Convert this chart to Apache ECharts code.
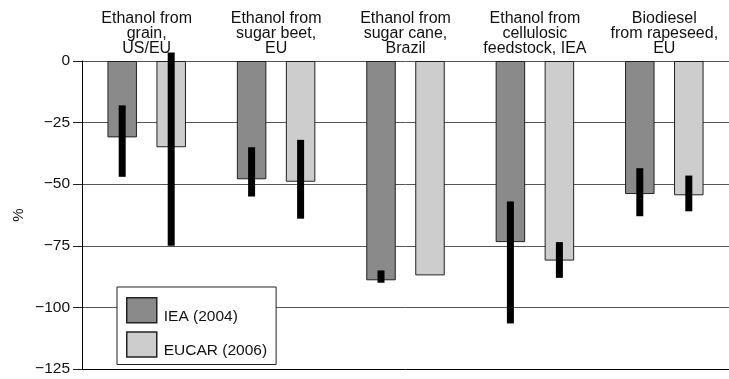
<!DOCTYPE html>
<html>
<head>
<meta charset="utf-8">
<script src="https://cdn.jsdelivr.net/npm/echarts@6/dist/echarts.min.js"></script>
<style>html,body{margin:0;padding:0;background:#fff;}#c{width:729px;height:379px;}</style>
</head>
<body>
<div id="c"></div>
<script>
const categories = [
  'Ethanol from\ngrain,\nUS/EU',
  'Ethanol from\nsugar beet,\nEU',
  'Ethanol from\nsugar cane,\nBrazil',
  'Ethanol from\ncellulosic\nfeedstock, IEA',
  'Biodiesel\nfrom rapeseed,\nEU'
];
const seriesNames = ['IEA (2004)', 'EUCAR (2006)'];
const ieaValues = [-31, -48, -89, -73.5, -54];
const eucarValues = [-35, -49, -87, -81, -54.5];
// error ranges [high, low]; null = none
const ieaRanges = [[-18, -47], [-35, -55], [-85, -90], [-57, -106.5], [-43.5, -63]];
const eucarRanges = [[3.5, -75], [-32, -64], null, [-73.5, -88], [-46.5, -61]];
const yTicks = [-125, -100, -75, -50, -25, 0];

const FONT = '"Liberation Sans", Arial, sans-serif';
const BAR_W = 29.5, GAP_PX = 19.5, ERR_W = 7;
const OFFSET = (BAR_W + GAP_PX) / 2;

const errData = [];
ieaRanges.forEach((r, i) => { if (r) errData.push([i, r[0], r[1], -1]); });
eucarRanges.forEach((r, i) => { if (r) errData.push([i, r[0], r[1], 1]); });

const chart = echarts.init(document.getElementById('c'));
chart.setOption({
  animation: false,
  textStyle: { fontFamily: FONT, color: '#111' },
  grid: { left: 82, right: -9, top: 61, bottom: 10 },
  xAxis: {
    type: 'category',
    position: 'top',
    data: categories,
    axisLine: { show: false },
    axisTick: { show: false },
    axisLabel: { interval: 0, fontFamily: FONT, fontSize: 16, lineHeight: 15, color: '#111', margin: 5 }
  },
  yAxis: {
    type: 'value',
    min: yTicks[0],
    max: yTicks[yTicks.length - 1],
    interval: 25,
    name: '%',
    nameLocation: 'middle',
    nameGap: 56,
    nameMoveOverlap: false,
    nameTextStyle: { fontFamily: FONT, fontSize: 15, color: '#111' },
    axisLine: { show: true, lineStyle: { color: '#000', width: 1 } },
    axisTick: { show: true, length: 9, lineStyle: { color: '#222' } },
    axisLabel: {
      fontFamily: FONT, fontSize: 15.5, color: '#111', margin: 12,
      formatter: v => String(v).replace('-', '\u2212')
    },
    splitLine: { show: true, lineStyle: { color: ['#000', '#555', '#555', '#555', '#555', '#555'], width: 1 } }
  },
  legend: {
    orient: 'vertical',
    left: 117, top: 287,
    backgroundColor: '#fff',
    borderColor: '#222', borderWidth: 1,
    padding: [10, 9, 6, 9],
    itemWidth: 30, itemHeight: 25, itemGap: 7,
    icon: 'rect',
    itemStyle: { borderColor: '#222', borderWidth: 1.5 },
    formatter: n => '{t|' + n + '}',
    textStyle: {
      fontFamily: FONT, fontSize: 15.5, color: '#111',
      rich: { t: { fontFamily: FONT, fontSize: 15.5, color: '#111', padding: [12, 0, 0, 2] } }
    },
    data: seriesNames
  },
  series: [
    {
      name: seriesNames[0], type: 'bar', data: ieaValues,
      barWidth: BAR_W, barGap: (GAP_PX / BAR_W * 100) + '%',
      itemStyle: { color: '#8a8a8a', borderColor: '#222', borderWidth: 1 }
    },
    {
      name: seriesNames[1], type: 'bar', data: eucarValues,
      barWidth: BAR_W,
      itemStyle: { color: '#cdcdcd', borderColor: '#222', borderWidth: 1 }
    },
    {
      type: 'custom', data: errData, z: 5, clip: false,
      renderItem: (params, api) => {
        const i = api.value(0);
        const top = api.coord([i, api.value(1)]);
        const bot = api.coord([i, api.value(2)]);
        const cx = top[0] + api.value(3) * OFFSET;
        return {
          type: 'rect',
          shape: { x: cx - ERR_W / 2, y: top[1], width: ERR_W, height: bot[1] - top[1] },
          style: { fill: '#000' }
        };
      }
    }
  ]
});
</script>
</body>
</html>
